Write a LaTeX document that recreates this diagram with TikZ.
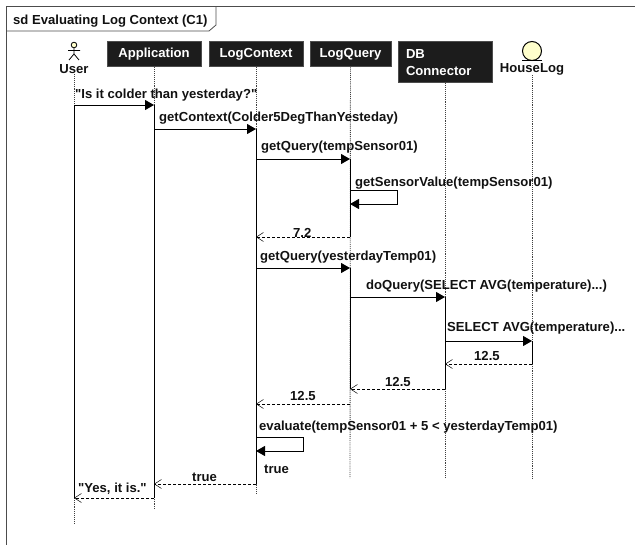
\documentclass[tikz,border=0pt]{standalone}
\usepackage{fontspec}
\newfontfamily\labelfont{Liberation Sans}
\usetikzlibrary{arrows.meta,positioning,calc}
\definecolor{Ink}{HTML}{111111}
\definecolor{HeadBox}{HTML}{1C1C1C}
\definecolor{EntityFill}{HTML}{FFFFCC}
\begin{document}
\begin{tikzpicture}[x=1pt,y=-1pt,
  every node/.style={font=\labelfont\bfseries\fontsize{13.1}{17}\selectfont,text=Ink,inner sep=0pt},
  head/.style={draw=black!70,fill=HeadBox,line width=1pt,minimum width=94pt,minimum height=25pt,text=white,align=left},
  life/.style={densely dotted,line width=0.9pt,black!75},
  active/.style={line width=0.8pt,black},
  call/.style={line width=0.9pt,black,-{Triangle[length=9pt,width=10pt]}},
  reply/.style={densely dashed,line width=0.8pt,black,-{Straight Barb[length=7pt,width=9pt,line width=0.5pt]}},
  msg/.style={anchor=west,yshift=-1pt}
]
\useasboundingbox (0,0) rectangle (635,545);
% frame
\draw[black!70,line width=1pt] (6,545) -- (6,7) -- (635,7);
\node[msg] (frametitle) at (13,20.5) {sd Evaluating Log Context (C1)};
\draw[black!70,line width=0.8pt] (6,31) -- (209,31) -- (216,25) -- (216,7);
% heads
\node[head] (application) at (154,54.5) {Application};
\node[head] (logcontext) at (256,54.5) {LogContext};
\node[head,minimum width=81pt] (logquery) at (350.5,54.5) {LogQuery};
\node[head,minimum height=41pt,text width=78pt] (dbconnector) at (445,62.5) {DB\\Connector};
% actor
\node (user) at (74,69.5) {User};
\draw[black,line width=0.8pt,fill=EntityFill] (74,45) circle (2.8pt);
\draw[black,line width=0.8pt] (74,48) -- (74,54) (68,50.5) -- (80,50.5) (69,60) -- (74,54) -- (79,60);
% entity
\node[draw=black,fill=EntityFill,circle,minimum size=19pt,line width=1pt] (entity) at (532,51) {};
\node (houselog) at (532,69) {HouseLog};
\draw[black,line width=1pt] (522,60.5) -- (542,60.5);
% lifelines
\coordinate (userend) at (74,524);
\coordinate (append) at (154,509);
\coordinate (ctxend) at (256,494);
\coordinate (queryend) at (350,478);
\coordinate (dbend) at (445,478);
\coordinate (logend) at (532,478);
\draw[life] (user) -- (userend);
\draw[life] (application) -- (append);
\draw[life] (logcontext) -- (ctxend);
\draw[life] (logquery) -- (queryend);
\draw[life] (dbconnector) -- (dbend);
\draw[life] (houselog) -- (logend);
% activations
\foreach \n/\a/\b in {ua/userend/105,ub/userend/498,aa/append/105,ab/append/498,
  ca/ctxend/129,cb/ctxend/484,qa/queryend/159,qb/queryend/237,qc/queryend/268,qd/queryend/389,
  da/dbend/297,db/dbend/389,la/logend/341,lb/logend/364}
  \coordinate (\n) at (\a |- 0,\b);
\draw[active] (ua) -- (ub);
\draw[active] (aa) -- (ab);
\draw[active] (ca) -- (cb);
\draw[active] (qa) -- (qb);
\draw[active] (qc) -- (qd);
\draw[active] (da) -- (db);
\draw[active] (la) -- (lb);
% messages
\foreach \a/\b/\y/\k [count=\i] in {
  userend/append/105/call,append/ctxend/129/call,ctxend/queryend/159/call,
  queryend/ctxend/237/reply,ctxend/queryend/268/call,queryend/dbend/297/call,
  dbend/logend/341/call,logend/dbend/364/reply,dbend/queryend/389/reply,
  queryend/ctxend/404/reply,ctxend/append/484/reply,append/userend/498/reply}{
  \coordinate (from\i) at (\a |- 0,\y);
  \coordinate (to\i) at (\b |- 0,\y);
  \draw[\k] (from\i) -- (to\i);
}
% self calls
\coordinate (sensorout) at (queryend |- 0,190);
\coordinate (sensorback) at (queryend |- 0,204);
\coordinate (evalout) at (ctxend |- 0,437);
\coordinate (evalback) at (ctxend |- 0,451);
\draw[call] (sensorout) -- ++(47.5,0) |- (sensorback);
\draw[call] (evalout) -- ++(47,0) |- (evalback);
% labels
\node[msg] (t1) at (75,94) {"Is it colder than yesterday?"};
\node[msg] (t2) at (159,117) {getContext(Colder5DegThanYesteday)};
\node[msg] (t3) at (261,146) {getQuery(tempSensor01)};
\node[msg] (t4) at (355,182) {getSensorValue(tempSensor01)};
\node[msg] (t5) at (293,232) {7.2};
\node[msg] (t6) at (260,256) {getQuery(yesterdayTemp01)};
\node[msg] (t7) at (366,285) {doQuery(SELECT AVG(temperature)...)};
\node[msg] (t8) at (447,327) {SELECT AVG(temperature)...};
\node[msg] (t9) at (474,355) {12.5};
\node[msg] (t10) at (385,381) {12.5};
\node[msg] (t11) at (290,395) {12.5};
\node[msg] (t12) at (259,426) {evaluate(tempSensor01 + 5 < yesterdayTemp01)};
\node[msg] (t13) at (264,468) {true};
\node[msg] (t14) at (192,476) {true};
\node[msg] (t15) at (78,488) {"Yes, it is."};
\end{tikzpicture}
\end{document}
